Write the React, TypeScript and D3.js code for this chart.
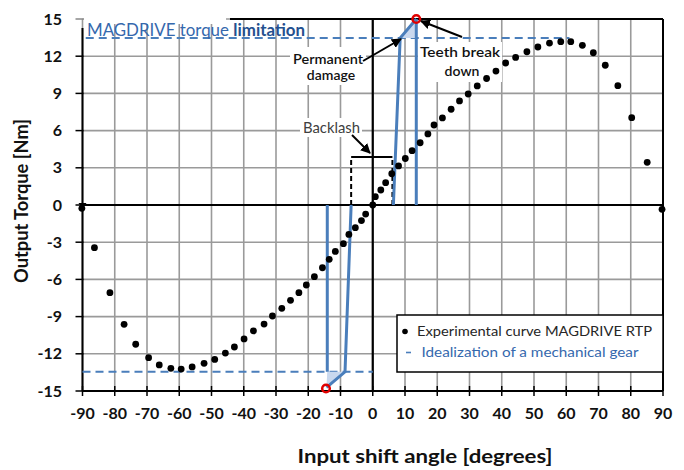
import React from "react";
import * as d3 from "d3";

// ---- data ----
const xTicks = [-90, -80, -70, -60, -50, -40, -30, -20, -10, 0, 10, 20, 30, 40, 50, 60, 70, 80, 90];
const yTicks = [-15, -12, -9, -6, -3, 0, 3, 6, 9, 12, 15];

const expAngle = [
  -90.2, -86.3, -81.5, -77.1, -73.5, -69.5, -66.2, -62.6, -59.4, -56.0, -52.3, -49.0, -45.7, -42.9, -39.9,
  -37.0, -33.7, -31.1, -28.2, -25.5, -22.9, -20.6, -18.1, -15.6, -13.5, -11.6, -9.1, -7.4, -5.4, -3.5, -2.2,
  0, 0.8, 2.5, 4.0, 5.9, 8.0, 10.1, 12.2, 14.7, 17.1, 19.0, 21.6, 24.3, 26.9, 29.6, 32.4, 35.3, 38.2, 41.2,
  44.3, 47.8, 51.2, 54.8, 58.3, 61.4, 65.0, 68.4, 72.1, 76.0, 80.3, 85.1, 89.7,
];
const expTorque = [
  -0.27, -3.44, -7.07, -9.62, -11.23, -12.31, -12.9, -13.17, -13.23, -13.06, -12.77, -12.45, -11.94, -11.45, -10.8,
  -10.15, -9.6, -8.95, -8.33, -7.69, -7.07, -6.45, -5.78, -5.06, -4.38, -3.74, -3.12, -2.37, -1.83, -1.26, -0.73,
  0, 0.67, 1.21, 1.8, 2.52, 3.15, 3.75, 4.38, 5.02, 5.73, 6.45, 7.02, 7.72, 8.39, 8.95, 9.6, 10.2, 10.8, 11.45,
  11.9, 12.36, 12.74, 13.06, 13.17, 13.17, 12.88, 12.28, 11.27, 9.62, 7.04, 3.44, -0.35,
];

// idealization of a mechanical gear
const posSlantAngle = [6.4, 8.5, 13.5];
const posSlantTorque = [0, 13.47, 15];
const posVertAngle = [13.5, 13.5];
const posVertTorque = [0, 15];
const posFillAngle = [8.5, 13.5, 13.5];
const posFillTorque = [13.47, 15, 13.47];

const negSlantAngle = [-6.7, -8.6, -14.3];
const negSlantTorque = [0, -13.45, -14.7];
const negVertAngle = [-14.1, -14.1];
const negVertTorque = [0, -13.45];
const negFillAngle = [-14.1, -8.6, -14.4];
const negFillTorque = [-13.45, -13.45, -14.8];

const breakAngle = [13.5, -14.5];
const breakTorque = [15, -14.8];

const limitPosAngle = [-89, 61];
const limitPosTorque = [13.47, 13.47];
const limitNegAngle = [-90, 0];
const limitNegTorque = [-13.45, -13.45];

const backlashAngle = [-6.7, 6.1];
const backlashTop = 3.87;

const FONT = "Lato, 'Open Sans', sans-serif";
const BLUE = "#4a7ebb";
const DBLUE = "#3568ad";

export default function App() {
  const W = 684, H = 470;
  const x = d3.scaleLinear().domain([-90, 90]).range([82.5, 663]);
  const y = d3.scaleLinear().domain([-15, 15]).range([391, 19]);
  const ln = d3.line<[number, number]>().x((d) => x(d[0])).y((d) => y(d[1]));
  const zip = (a: number[], b: number[]) => a.map((v, i) => [v, b[i]] as [number, number]);

  return (
    <svg width={W} height={H} style={{ position: "absolute", left: 0, top: 0, background: "#fff" }}>
      <defs>
        <marker id="ah" viewBox="0 0 10 10" refX="9" refY="5" markerWidth="5" markerHeight="5" orient="auto">
          <path d="M0,0 L10,5 L0,10 z" fill="#000" />
        </marker>
      </defs>
      <rect width={W} height={H} fill="#fff" />
      {/* grid */}
      {xTicks.map((t) => (
        <line key={"gx" + t} x1={x(t)} x2={x(t)} y1={y(15)} y2={y(-15)} stroke="#9a9a9a" strokeWidth={1.6} />
      ))}
      {yTicks.map((t) => (
        <line key={"gy" + t} x1={x(-90)} x2={x(90)} y1={y(t)} y2={y(t)} stroke="#9a9a9a" strokeWidth={1.6} />
      ))}
      {/* borders & axes */}
      <line x1={230} x2={x(90)} y1={y(15)} y2={y(15)} stroke="#000" strokeWidth={2} />
      <line x1={x(90)} x2={x(90)} y1={y(15)} y2={y(-15)} stroke="#000" strokeWidth={2} />
      <line x1={x(-90)} x2={x(-90)} y1={28} y2={y(-15)} stroke="#000" strokeWidth={2} />
      <line x1={x(-90)} x2={x(90)} y1={y(-15)} y2={y(-15)} stroke="#000" strokeWidth={2} />
      <line x1={x(-90)} x2={x(90)} y1={y(0)} y2={y(0)} stroke="#000" strokeWidth={2.2} />
      <line x1={x(0)} x2={x(0)} y1={y(15)} y2={y(-15)} stroke="#000" strokeWidth={2.2} />
      {xTicks.map((t) => (
        <line key={"tx" + t} x1={x(t)} x2={x(t)} y1={y(-15) - 5} y2={y(-15) + 5} stroke="#000" strokeWidth={1.5} />
      ))}
      {yTicks.map((t) => (
        <line key={"ty" + t} x1={x(-90) - 7} x2={x(-90) + 1} y1={y(t)} y2={y(t)} stroke={t === 15 ? "#888" : "#000"} strokeWidth={1.5} />
      ))}
      <path d={`M${x(-90) - 4},${y(0) - 2} L${x(-90) + 4},${y(0) - 2} L${x(-90)},${y(0) + 4} z`} fill="#000" />

      {/* tick labels */}
      {xTicks.map((t) => (
        <text key={"lx" + t} x={x(t)} y={419} textAnchor="middle" fontFamily={FONT} fontWeight={700} fontSize={16} fill="#111">
          {t}
        </text>
      ))}
      {yTicks.map((t) => (
        <text key={"ly" + t} x={62} y={y(t) + 5.5} textAnchor="end" fontFamily={FONT} fontWeight={700} fontSize={16} fill="#111">
          {t}
        </text>
      ))}
      <text x={425} y={463} textAnchor="middle" fontFamily={FONT} fontWeight={700} fontSize={19} fill="#111" textLength={255} lengthAdjust="spacingAndGlyphs">
        Input shift angle [degrees]
      </text>
      <text transform="translate(28,201) rotate(-90)" textAnchor="middle" fontFamily={FONT} fontWeight={700} fontSize={18} fill="#111" textLength={164} lengthAdjust="spacingAndGlyphs">
        Output Torque [Nm]
      </text>

      {/* annotation backgrounds (behind marks) */}
      <rect x={84} y={14} width={142} height={10} fill="#fff" />
      <rect x={290} y={47} width={76} height={38} fill="#fff" />
      <rect x={418} y={42} width={84} height={40} fill="#fff" />
      <rect x={300} y={118} width={62} height={19} fill="#fff" />

      {/* torque limitation dashed lines */}
      <path d={ln(zip(limitPosAngle, limitPosTorque)) || ""} stroke={BLUE} strokeWidth={2} strokeDasharray="8,5" fill="none" />
      <path d={ln(zip(limitNegAngle, limitNegTorque)) || ""} stroke={BLUE} strokeWidth={2} strokeDasharray="8,5" fill="none" />

      {/* backlash bracket */}
      <line x1={x(backlashAngle[0])} x2={x(backlashAngle[0])} y1={y(0)} y2={y(backlashTop)} stroke="#000" strokeWidth={2} strokeDasharray="5,3" />
      <line x1={x(backlashAngle[1])} x2={x(backlashAngle[1])} y1={y(0)} y2={y(backlashTop)} stroke="#000" strokeWidth={2} strokeDasharray="5,3" />
      <line x1={x(backlashAngle[0])} x2={x(backlashAngle[1])} y1={y(backlashTop)} y2={y(backlashTop)} stroke="#000" strokeWidth={2} />

      {/* idealization */}
      <path d={(ln(zip(posFillAngle, posFillTorque)) || "") + "Z"} fill="#c9d8ee" stroke="none" />
      <path d={(ln(zip(negFillAngle, negFillTorque)) || "") + "Z"} fill="#c9d8ee" stroke="none" />
      <path d={ln(zip(posSlantAngle, posSlantTorque)) || ""} stroke={BLUE} strokeWidth={3} fill="none" />
      <path d={ln(zip(posVertAngle, posVertTorque)) || ""} stroke={BLUE} strokeWidth={3} fill="none" />
      <path d={ln(zip(negSlantAngle, negSlantTorque)) || ""} stroke={BLUE} strokeWidth={3} fill="none" />
      <path d={ln(zip(negVertAngle, negVertTorque)) || ""} stroke={BLUE} strokeWidth={3} fill="none" />

      {/* experimental dots */}
      {expAngle.map((a, i) => (
        <circle key={"p" + i} cx={x(a)} cy={y(expTorque[i])} r={3.4} fill="#000" />
      ))}

      {/* break points */}
      {breakAngle.map((a, i) => (
        <circle key={"b" + i} cx={x(a)} cy={y(breakTorque[i])} r={3.8} fill="none" stroke="#e00000" strokeWidth={2.5} />
      ))}

      {/* annotation texts */}
      <text x={87} y={36} fontFamily={FONT} fontSize={17} fill={DBLUE} textLength={218} lengthAdjust="spacingAndGlyphs">
        MAGDRIVE torque <tspan fontWeight={700} fill="#24508f">limitation</tspan>
      </text>

      <text x={328} y={64} textAnchor="middle" fontFamily={FONT} fontSize={14} fill="#111" fontWeight={600} textLength={70} lengthAdjust="spacingAndGlyphs">
        Permanent
      </text>
      <text x={331} y={80} textAnchor="middle" fontFamily={FONT} fontSize={14} fill="#111" fontWeight={600}>
        damage
      </text>
      <line x1={363} y1={61} x2={401} y2={39} stroke="#000" strokeWidth={2} markerEnd="url(#ah)" />

      <text x={460} y={57} textAnchor="middle" fontFamily={FONT} fontSize={14} fill="#111" fontWeight={600} textLength={80} lengthAdjust="spacingAndGlyphs">
        Teeth break
      </text>
      <text x={462} y={76} textAnchor="middle" fontFamily={FONT} fontSize={14} fill="#111" fontWeight={600}>
        down
      </text>
      <line x1={462} y1={37} x2={421} y2={21} stroke="#000" strokeWidth={2} markerEnd="url(#ah)" />

      <text x={331.5} y={133} textAnchor="middle" fontFamily={FONT} fontSize={15} fill="#404040" textLength={57} lengthAdjust="spacingAndGlyphs">
        Backlash
      </text>
      <line x1={352} y1={135} x2={370} y2={153} stroke="#000" strokeWidth={2} markerEnd="url(#ah)" />

      {/* legend */}
      <rect x={397} y={315} width={266} height={57} fill="#fff" stroke="#000" strokeWidth={1.5} />
      <circle cx={405} cy={331.5} r={2.8} fill="#000" />
      <text x={417} y={336} fontFamily={FONT} fontSize={14} fill="#262626" textLength={235} lengthAdjust="spacingAndGlyphs">
        Experimental curve MAGDRIVE RTP
      </text>
      <line x1={406} x2={411} y1={352.5} y2={352.5} stroke={BLUE} strokeWidth={1.6} />
      <text x={421.5} y={357} fontFamily={FONT} fontSize={14} fill={DBLUE} textLength={217} lengthAdjust="spacingAndGlyphs">
        Idealization of a mechanical gear
      </text>
    </svg>
  );
}
